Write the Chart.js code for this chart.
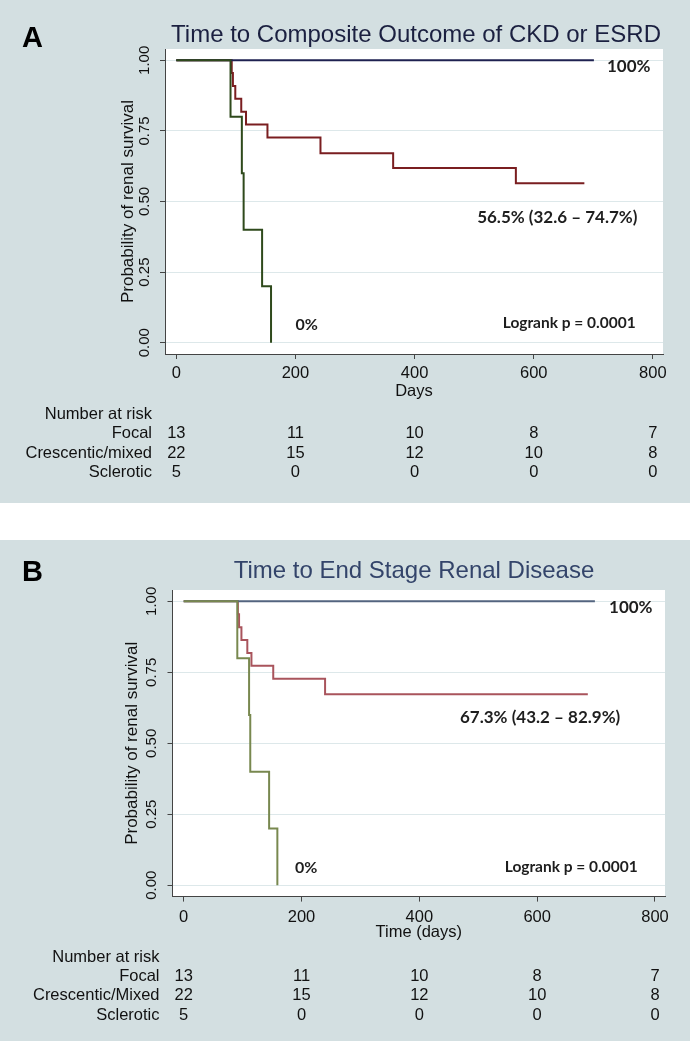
<!DOCTYPE html>
<html>
<head>
<meta charset="utf-8">
<script src="https://cdn.jsdelivr.net/npm/chart.js@4.4.1/dist/chart.umd.min.js"></script>
<style>
  html, body { margin: 0; padding: 0; background: #fff; }
  body { width: 690px; height: 1043px; position: relative; overflow: hidden; }
  .panel { position: absolute; left: 0; width: 690px; background: #d3dfe1; }
  #panelA { top: 0; height: 503px; }
  #panelB { top: 540px; height: 501px; }
  .panel canvas { position: absolute; left: 0; top: 0; }
  .letter { position: absolute; left: 22px; font: bold 29px "Liberation Sans", Arial, sans-serif; line-height: 1; color: #000; }
  .title { position: absolute; font: 24px "Liberation Sans", Arial, sans-serif; line-height: 1; white-space: nowrap; transform: translateX(-50%); }
</style>
</head>
<body>
<div class="panel" id="panelA">
  <canvas id="chartA" width="690" height="503"></canvas>
  <div class="letter" style="top:23px">A</div>
  <div class="title" style="left:416px; top:21.5px; color:#1b2040">Time to Composite Outcome of CKD or ESRD</div>
</div>
<div class="panel" id="panelB">
  <canvas id="chartB" width="690" height="501"></canvas>
  <div class="letter" style="top:17px">B</div>
  <div class="title" style="left:414px; top:17.5px; color:#33446a">Time to End Stage Renal Disease</div>
</div>
<script>
// axis ticks
const dayTicks = [0, 200, 400, 600, 800];
const probTicks = [0, 0.25, 0.5, 0.75, 1];

// panel A: composite outcome of CKD or ESRD
const focalDaysA = [0, 701];
const focalSurvA = [1, 1];
const crescDaysA = [0, 93, 95, 99, 109, 117, 153, 242, 364, 570, 685];
const crescSurvA = [1, 0.955, 0.909, 0.864, 0.818, 0.773, 0.727, 0.671, 0.619, 0.565, 0.565];
const scleroDaysA = [0, 91, 110, 113, 144, 159];
const scleroSurvA = [1, 0.8, 0.6, 0.4, 0.2, 0];

// panel B: end stage renal disease
const focalDaysB = [0, 698];
const focalSurvB = [1, 1];
const crescDaysB = [0, 92, 94, 98, 108, 115, 152, 240, 686];
const crescSurvB = [1, 0.955, 0.909, 0.864, 0.818, 0.773, 0.727, 0.673, 0.673];
const scleroDaysB = [0, 91, 111, 113, 145, 159];
const scleroSurvB = [1, 0.8, 0.6, 0.4, 0.2, 0];

// number at risk (same for both panels)
const riskFocal = [13, 11, 10, 8, 7];
const riskCresc = [22, 15, 12, 10, 8];
const riskSclero = [5, 0, 0, 0, 0];

const FONT = '"Liberation Sans", Arial, sans-serif';
const NOTE_FONT = 'Lato, "Open Sans", sans-serif';

const toPoints = (xs, ys) => xs.map((x, i) => ({ x, y: ys[i] }));

const panelPlugin = {
  id: 'panelExtras',
  beforeDraw(chart) {
    const { ctx, chartArea: a } = chart;
    ctx.save();
    ctx.fillStyle = '#ffffff';
    ctx.fillRect(a.left, a.top, a.right - a.left, a.bottom - a.top);
    ctx.restore();
  },
  afterDraw(chart, args, opts) {
    const { ctx, chartArea: a, scales: { x, y } } = chart;
    ctx.save();
    ctx.fillStyle = '#111';
    ctx.textBaseline = 'middle';
    ctx.font = '16.5px ' + FONT;
    const labelX = a.left - 13;
    ctx.textAlign = 'right';
    ctx.fillText('Number at risk', labelX, a.bottom + opts.rowOffsets[0]);
    opts.riskRows.forEach((row, i) => {
      const ry = a.bottom + opts.rowOffsets[i + 1];
      ctx.textAlign = 'right';
      ctx.fillText(row.label, labelX, ry);
      ctx.textAlign = 'center';
      row.counts.forEach((n, j) => ctx.fillText(String(n), x.getPixelForValue(dayTicks[j]), ry));
    });
    // annotations in data coordinates
    ctx.textAlign = 'left';
    ctx.fillStyle = '#1e1e1e';
    opts.notes.forEach(n => {
      ctx.font = 'bold ' + n.size + 'px ' + NOTE_FONT;
      ctx.fillText(n.text, x.getPixelForValue(n.x), y.getPixelForValue(n.y));
    });
    ctx.restore();
  }
};

function buildPanel(id, p) {
  return new Chart(document.getElementById(id), {
    type: 'line',
    data: {
      datasets: [
        { label: 'Sclerotic', data: p.sclero, borderColor: p.colors[2] },
        { label: 'Focal', data: p.focal, borderColor: p.colors[0] },
        { label: p.crescLabel, data: p.cresc, borderColor: p.colors[1] }
      ]
    },
    options: {
      responsive: false,
      animation: false,
      layout: { padding: { left: 100, right: p.padRight, top: p.padTop, bottom: p.padBottom } },
      elements: {
        point: { radius: 0 },
        line: { borderWidth: 2, stepped: true, tension: 0, fill: false }
      },
      plugins: {
        legend: { display: false },
        tooltip: { enabled: false },
        title: { display: false },
        panelExtras: {
          rowOffsets: [60.5, 79.5, 99, 118.5],
          riskRows: [
            { label: 'Focal', counts: riskFocal },
            { label: p.crescLabel, counts: riskCresc },
            { label: 'Sclerotic', counts: riskSclero }
          ],
          notes: p.notes
        }
      },
      scales: {
        x: {
          type: 'linear',
          min: -19,
          max: 817,
          afterBuildTicks: s => { s.ticks = dayTicks.map(v => ({ value: v })); },
          afterFit: s => { s.height = 50; },
          ticks: {
            autoSkip: false, maxRotation: 0, padding: p.xTickPad, color: '#111',
            font: { family: FONT, size: 16.5 },
            callback: v => String(v)
          },
          grid: { drawOnChartArea: false, tickColor: '#444', tickLength: 5 },
          border: { color: '#444', width: 1 },
          title: {
            display: true, text: p.xTitle, color: '#111',
            font: { family: FONT, size: 16.5 },
            padding: { top: 0, bottom: p.xTitlePad }
          }
        },
        y: {
          type: 'linear',
          min: -0.04,
          max: 1.04,
          afterBuildTicks: s => { s.ticks = probTicks.map(v => ({ value: v })); },
          afterFit: s => { s.width = p.yWidth; },
          ticks: {
            autoSkip: false, minRotation: 90, maxRotation: 90, crossAlign: 'center',
            padding: 1, color: '#111', font: { family: FONT, size: 15 },
            callback: v => v.toFixed(2)
          },
          grid: { color: '#dde8ea', lineWidth: 1, tickColor: '#444', tickLength: 5 },
          border: { color: '#444', width: 1 },
          title: {
            display: true, text: 'Probability of renal survival', color: '#111',
            font: { family: FONT, size: 17 },
            padding: { top: p.yTitlePad, bottom: 0 }
          }
        }
      }
    },
    plugins: [panelPlugin]
  });
}

buildPanel('chartA', {
  focal: toPoints(focalDaysA, focalSurvA),
  cresc: toPoints(crescDaysA, crescSurvA),
  sclero: toPoints(scleroDaysA, scleroSurvA),
  colors: ['#1e2150', '#7a1e20', '#2f4a1c'],
  crescLabel: 'Crescentic/mixed',
  xTitle: 'Days',
  padTop: 49, padRight: 27, padBottom: 99,
  yWidth: 65, yTitlePad: 17.8,
  xTickPad: 4.4, xTitlePad: 3,
  notes: [
    { text: '100%', x: 723, y: 0.979, size: 17 },
    { text: '56.5% (32.6 \u2013 74.7%)', x: 505, y: 0.445, size: 17 },
    { text: '0%', x: 200, y: 0.063, size: 16 },
    { text: 'Logrank p = 0.0001', x: 548, y: 0.07, size: 15.5 }
  ]
});

buildPanel('chartB', {
  focal: toPoints(focalDaysB, focalSurvB),
  cresc: toPoints(crescDaysB, crescSurvB),
  sclero: toPoints(scleroDaysB, scleroSurvB),
  colors: ['#53647f', '#a9545c', '#78884f'],
  crescLabel: 'Crescentic/Mixed',
  xTitle: 'Time (days)',
  padTop: 50, padRight: 25, padBottom: 94.4,
  yWidth: 72.5, yTitlePad: 21.8,
  xTickPad: 6, xTitlePad: 4.7,
  notes: [
    { text: '100%', x: 722, y: 0.979, size: 17 },
    { text: '67.3% (43.2 \u2013 82.9%)', x: 469, y: 0.59, size: 17 },
    { text: '0%', x: 189, y: 0.062, size: 16 },
    { text: 'Logrank p = 0.0001', x: 545, y: 0.066, size: 15.5 }
  ]
});
</script>
</body>
</html>
